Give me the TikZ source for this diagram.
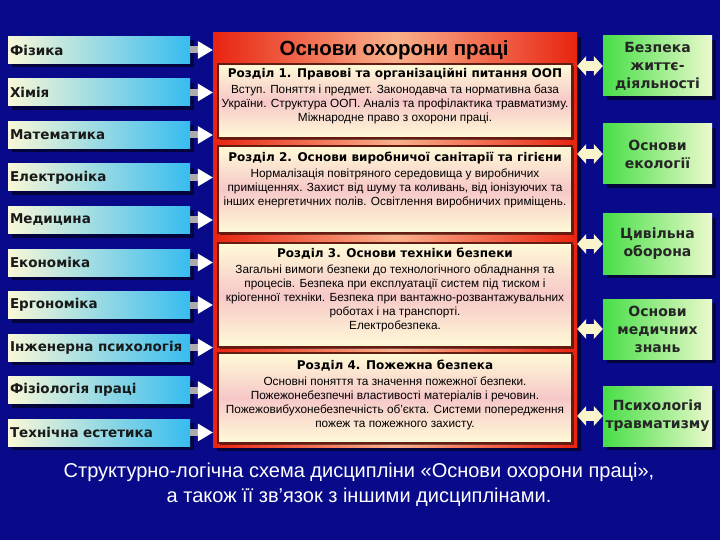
\documentclass[tikz,border=0pt]{standalone}
\usepackage{fontspec}
\setmainfont{Liberation Sans}
\newfontfamily\vfont{DejaVu Sans}
\usetikzlibrary{arrows.meta,shadows,positioning}

\definecolor{bgblue}{RGB}{8,10,138}
\definecolor{skyleft}{RGB}{250,248,215}
\definecolor{skyright}{RGB}{55,188,240}
\definecolor{grnleft}{RGB}{70,222,70}
\definecolor{grnright}{RGB}{236,250,205}
\definecolor{redout}{RGB}{232,36,16}
\definecolor{redin}{RGB}{250,176,140}
\definecolor{secyel}{RGB}{255,250,215}
\definecolor{secpink}{RGB}{246,200,200}
\definecolor{secline}{RGB}{100,28,18}
\definecolor{cream}{RGB}{250,244,205}

\tikzset{
  shade/.style={drop shadow={shadow xshift=4pt,shadow yshift=-4pt,fill=black,opacity=0.55}},
  discbox/.style={shade,rectangle,minimum width=182pt,minimum height=27pt,
    inner xsep=2pt,text width=178pt,align=left,
    left color=skyleft,right color=skyright,text=black!90,
    font=\vfont\bfseries\fontsize{13.5}{15}\selectfont},
  relbox/.style={shade,rectangle,minimum width=109pt,minimum height=60pt,
    inner sep=1pt,align=center,left color=grnleft,right color=grnright,text=black!85,
    font=\vfont\bfseries\fontsize{14}{18}\selectfont},
  mainbox/.style={shade,rectangle,minimum width=364pt,minimum height=414pt,
    left color=redout,right color=redout,middle color=redin},
  secbox/.style={rectangle,minimum width=354pt,draw=secline,line width=1.2pt,
    top color=secyel,bottom color=secyel,middle color=secpink,
    drop shadow={shadow xshift=2pt,shadow yshift=-2pt,fill=black,opacity=0.5}},
  sectext/.style={inner sep=0pt,align=center,text=black,
    font=\fontsize{11.8}{14}\selectfont},
  feed/.style={line width=7pt,draw=gray!65,
    -{Triangle[length=15pt,width=18pt,line width=0pt,color=white]}},
  link/.style={line width=10pt,draw=cream,
    {Triangle[length=9pt,width=20pt,line width=0pt]}-{Triangle[length=9pt,width=20pt,line width=0pt]}}
}
\newcommand{\sectitle}[1]{{\vfont\bfseries\fontsize{12}{14}\selectfont #1}\\[2pt]}

\begin{document}
\begin{tikzpicture}[x=1pt,y=-1pt]
  % background
  \fill[bgblue] (0,0) rectangle (720,540);
  \useasboundingbox (0,0) rectangle (720,540);

  % related disciplines, left
  \foreach \lab [count=\i] in {Фізика,Хімія,Математика,Електроніка,Медицина,
      Економіка,Ергономіка,Інженерна психологія,Фізіологія праці,Технічна естетика}{
    \node[discbox] (l\i) at (99,7.5+42.5*\i) {\lab};
  }

  % main course box
  \node[mainbox] (main) at (395,240) {};
  \node[font=\bfseries\fontsize{20.5}{24}\selectfont,text=black] (title) at (394,50)
    {Основи охорони праці};

  % sections
  \node[secbox,minimum height=74pt] (s1) at (395,101) {};
  \node[secbox,minimum height=87pt] (s2) at (395,189.5) {};
  \node[secbox,minimum height=104pt] (s3) at (395,295) {};
  \node[secbox,minimum height=90pt] (s4) at (395,398) {};

  \node[sectext,below=5pt of s1.north] (t1)
    {\sectitle{Розділ 1. Правові та організаційні питання ООП}
     Вступ. Поняття і предмет. Законодавча та нормативна база\\
     України. Структура ООП. Аналіз та профілактика травматизму.\\
     Міжнародне право з охорони праці.};
  \node[sectext,below=6pt of s2.north] (t2)
    {\sectitle{Розділ 2. Основи виробничої санітарії та гігієни}
     Нормалізація повітряного середовища у виробничих\\
     приміщеннях. Захист від шуму та коливань, від іонізуючих та\\
     інших енергетичних полів. Освітлення виробничих приміщень.};
  \node[sectext,below=5pt of s3.north] (t3)
    {\sectitle{Розділ 3. Основи техніки безпеки}
     Загальні вимоги безпеки до технологічного обладнання та\\
     процесів. Безпека при експлуатації систем під тиском і\\
     кріогенної техніки. Безпека при вантажно-розвантажувальних\\
     роботах і на транспорті.\\
     Електробезпека.};
  \node[sectext,below=7pt of s4.north] (t4)
    {\sectitle{Розділ 4. Пожежна безпека}
     Основні поняття та значення пожежної безпеки.\\
     Пожежонебезпечні властивості матеріалів і речовин.\\
     Пожежовибухонебезпечність об'єкта. Системи попередження\\
     пожеж та пожежного захисту.};

  % related disciplines, right
  \foreach \y/\lab [count=\i] in {66/Безпека\\життє-\\діяльності,154/Основи\\екології,
      244/Цивільна\\оборона,329/Основи\\медичних\\знань,416/Психологія\\травматизму}{
    \node[relbox] (r\i) at (657.5,\y) {\lab};
  }

  % connectors
  \foreach \i in {1,...,10}
    \draw[feed] (l\i.east) -- (l\i.east -| main.west);
  \foreach \i in {1,...,5}
    \draw[link] (r\i.west -| main.east) -- (r\i.west);

  % caption
  \node[align=center,text=white,font=\fontsize{20}{25}\selectfont] (cap) at (359,485)
    {Структурно-логічна схема дисципліни «Основи охорони праці»,\\
     а також її зв'язок з іншими дисциплінами.};
\end{tikzpicture}
\end{document}
